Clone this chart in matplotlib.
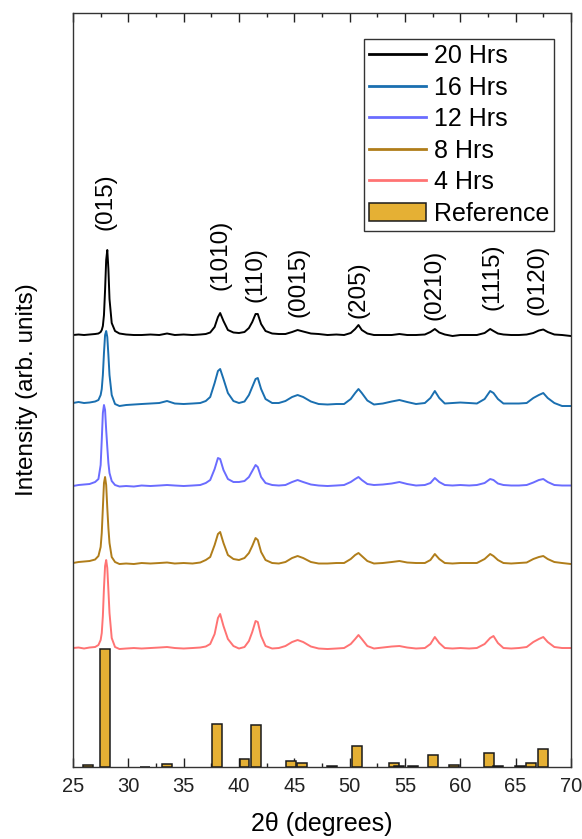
import numpy as np
import matplotlib
matplotlib.use('Agg')
import matplotlib.pyplot as plt
from matplotlib.ticker import MultipleLocator
from matplotlib.patches import Patch
from matplotlib.lines import Line2D

plt.rcParams['font.family'] = ['Liberation Sans', 'DejaVu Sans']

# 2theta sampling (deg), denser around the peaks
two_theta = [25.0, 25.5, 26.0, 26.5, 27.0, 27.3, 27.5, 27.6, 27.7, 27.8,
             27.9, 28.0, 28.1, 28.2, 28.3, 28.5, 28.8, 29.2, 29.8, 30.5,
             31.2, 32.0, 32.8, 33.5, 34.2, 35.0, 35.8, 36.5, 37.0, 37.4,
             37.8, 38.1, 38.3, 38.6, 39.0, 39.5, 40.0, 40.5, 40.9, 41.2,
             41.5, 41.7, 42.0, 42.4, 43.0, 43.6, 44.2, 44.8, 45.3, 45.8,
             46.5, 47.2, 48.0, 48.8, 49.5, 50.1, 50.5, 50.8, 51.1, 51.6,
             52.2, 53.0, 53.8, 54.5, 55.2, 56.0, 56.8, 57.3, 57.7, 58.1,
             58.6, 59.3, 60.0, 60.8, 61.5, 62.2, 62.7, 63.0, 63.4, 63.9,
             64.6, 65.3, 66.0, 66.6, 67.1, 67.5, 67.9, 68.5, 69.2, 70.0]

# intensities above each pattern's own baseline (arb. units)
hrs_20 = [0, 0.5, 0, 0.5, 1, 1.5, 3, 5, 9, 20,
          45, 75, 85, 66, 36, 12, 4, 1.5, 0.5, 0,
          0, 0.5, 0, 1.5, 0, 0.5, 0, 0.5, 1, 2.5,
          8, 18, 22, 14, 5, 2.5, 2, 3, 7, 13,
          21, 21, 11, 4, 1.5, 1, 1, 3, 5, 3.5,
          1.5, 1, 0, 0.5, 0, 2, 6, 10, 5, 1.5,
          0, 0, 0, 1, 0, 0, 0.5, 3, 6, 2.5,
          0.5, -1, 0, 0, 0, 2, 6, 4, 1.5, 0.5,
          0, 0, 0.5, 2, 4.5, 5.5, 3, 0.5, 0, -1]

hrs_16 = [0, 1, 0, 0.5, 1.5, 3, 8, 14, 28, 50,
          68, 72, 66, 48, 28, 8, -1, -3, -2, -1.5,
          -1, -0.5, 0, 2, -0.5, -1, -0.5, 0, 2, 6,
          20, 32, 34, 24, 10, 2, 0, 1.5, 8, 16,
          24, 25, 14, 4, 0, 0, 2, 6, 8, 6,
          1.5, -1, -1.5, -1, -1, 4, 10, 14, 10, 2.5,
          -1.5, -0.5, 1.5, 3, 1, -1, 0, 5, 12, 5,
          -0.5, 0, 0.5, 0, -0.5, 4, 12, 10, 4, -0.5,
          -0.5, -0.5, 0, 5, 8, 10, 5, 0, -3, -3]

hrs_12 = [-1, 0, 0.5, 1, 3, 6, 20, 45, 72, 80,
          75, 55, 38, 22, 12, 4, 0, -1.5, -1, -1.5,
          -0.5, -1, -0.5, 0, -0.5, -1, -0.5, 0, 2, 5,
          16, 27, 26, 15, 6, 3, 3, 4, 8, 14,
          20, 18, 8, 2, 0, -0.5, 0, 3, 5, 3,
          0.5, -0.5, -1, -0.5, 0, 3, 6, 8, 5, 1,
          0, 0.5, 1.5, 3, 1, -0.5, 0, 2, 7, 3,
          0, -0.5, 0, -0.5, 0, 2, 6, 5, 1.5, 0,
          -0.5, -0.5, 0, 2.5, 5, 6, 3, 0, -0.5, -0.5]

hrs_8 = [0, 1, 1.5, 2, 3.5, 7, 16, 30, 55, 80,
         86, 78, 55, 35, 20, 6, 1, -1, -0.5, -1,
         0, -0.5, 0, 0.5, -0.5, 0, -0.5, 0.5, 3, 6,
         18, 29, 31, 20, 8, 4, 3, 5, 10, 17,
         25, 23, 11, 3, 0, -0.5, 1, 5, 7, 5,
         1, -0.5, -0.5, 0, 0, 4, 8, 10, 7, 2,
         -0.5, 0, 1, 2, 0.5, 0, 0, 3, 9, 4,
         0, -0.5, 0, 0, 0, 4, 9, 7, 3, 0,
         -0.5, 0, 0.5, 4, 6, 7, 4, 1, 0, -1]

hrs_4 = [0, 0.5, -0.5, 0.5, 1, 3, 8, 15, 32, 60,
         82, 88, 80, 58, 35, 10, 1, -1, -0.5, 0,
         -0.5, 0, 0.5, 1, 0, -0.5, 0, 0.5, 1.5, 4,
         14, 30, 34, 22, 9, 2, -0.5, 1, 7, 16,
         27, 26, 12, 2, -0.5, 0, 2, 6, 8, 6,
         1.5, -0.5, -1, -0.5, 0, 4, 9, 13, 9, 2,
         -0.5, 0.5, 1.5, 2, 0.5, -0.5, 0, 4, 11, 5,
         0, -0.5, 0, -0.5, 0, 4, 10, 12, 5, 0,
         -0.5, 0, 1, 6, 9, 11, 6, 1, 0, 0]

series = [hrs_20, hrs_16, hrs_12, hrs_8, hrs_4]
offsets = [432, 364, 282, 204, 119]
labels = ['20 Hrs', '16 Hrs', '12 Hrs', '8 Hrs', '4 Hrs']
colors = ['#000000', '#1a6fb0', '#6a6cff', '#b07d1a', '#ff7373']

# reference pattern (relative intensity, %)
ref_pos = [26.4, 27.9, 31.5, 33.5, 38.0, 40.5, 41.5, 44.7, 45.7, 48.4,
           50.7, 54.0, 54.5, 55.7, 57.5, 59.4, 62.6, 63.4, 65.4, 66.4, 67.5]
ref_int = [1.7, 100, 0.4, 2.8, 36.4, 6.5, 35.3, 5.3, 3.6, 0.6,
           18.0, 3.1, 0.5, 0.7, 10.4, 2.0, 11.6, 0.6, 0.5, 3.1, 15.0]
ref_scale = 1.18

hkl_labels = ['(015)', '(1010)', '(110)', '(0015)', '(205)', '(0210)', '(1115)', '(0120)']
hkl_pos = [27.9, 38.3, 41.5, 45.4, 50.8, 57.7, 62.9, 67.0]
hkl_y = [537, 477, 465, 450, 449, 447, 457, 452]

fig = plt.figure(figsize=(5.82, 8.39), dpi=100)
ax = fig.add_axes([0.1254, 0.0858, 0.8556, 0.8987])

x = np.array(two_theta)
handles = []
for y, off, lab, c in zip(series, offsets, labels, colors):
    assert len(y) == len(x)
    ax.plot(x, np.array(y) + off, color=c, lw=1.4, label=lab)
    handles.append(Line2D([], [], color=c, lw=2.0))

ax.bar(ref_pos, np.array(ref_int) * ref_scale, width=0.9, color='#e5b034',
       edgecolor='#1a1a1a', linewidth=1.1, zorder=3)
handles.append(Patch(facecolor='#e5b034', edgecolor='#1a1a1a', linewidth=1.1))

for t, xp, yp in zip(hkl_labels, hkl_pos, hkl_y):
    ax.text(xp, yp, t, rotation=90, ha='center', va='bottom', fontsize=17.5)

ax.set_xlim(25, 70)
ax.set_ylim(0, 754)
ax.xaxis.set_major_locator(MultipleLocator(5))
ax.xaxis.set_minor_locator(MultipleLocator(2.5))
ax.tick_params(axis='x', which='both', direction='in', top=True, bottom=True,
               colors='#222222', labelsize=14.5, pad=7)
ax.tick_params(axis='x', which='major', length=6.5, width=1)
ax.tick_params(axis='x', which='minor', length=3, width=1)
ax.tick_params(axis='y', left=False, labelleft=False)
for s in ax.spines.values():
    s.set_color('#333333')
    s.set_linewidth(1.0)

ax.set_xlabel('2θ (degrees)', fontsize=18, labelpad=12)
ax.set_ylabel('Intensity (arb. units)', fontsize=17.5, labelpad=25)

leg = ax.legend(handles, labels + ['Reference'], loc='upper right',
                bbox_to_anchor=(0.966, 0.9655), borderaxespad=0, fontsize=18,
                handlelength=2.3, handletextpad=0.3, labelspacing=0.3,
                borderpad=0.2, fancybox=False, framealpha=1)
leg.get_frame().set_edgecolor('#333333')
leg.get_frame().set_linewidth(1.0)

fig.savefig('out.png', dpi=100)
